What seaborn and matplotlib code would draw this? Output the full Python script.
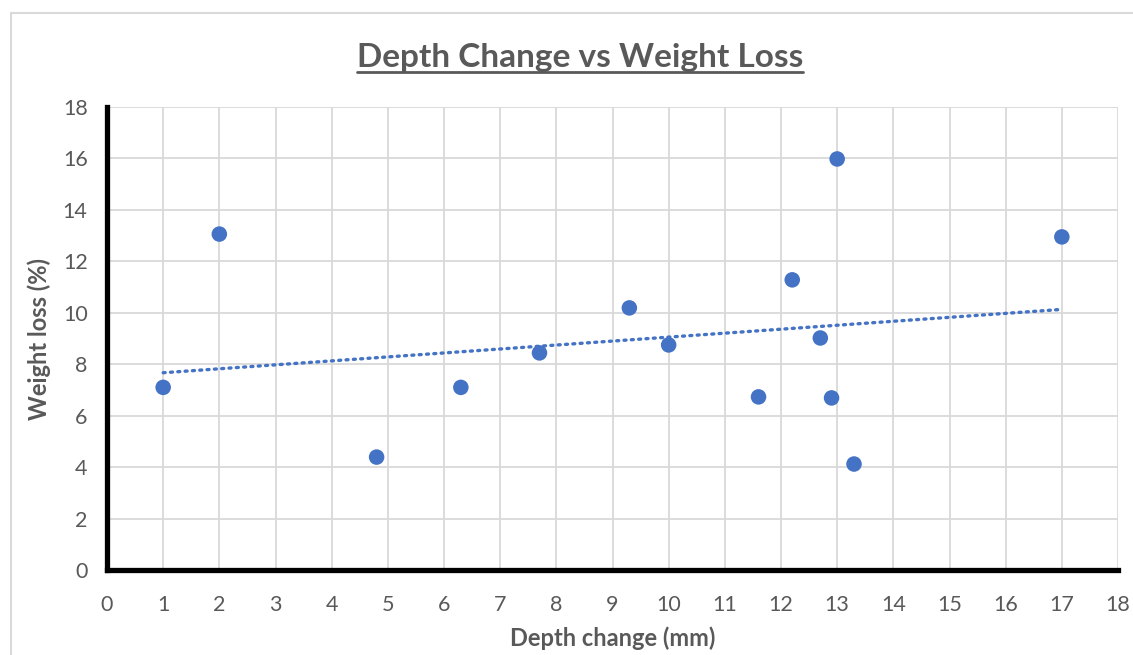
import matplotlib
matplotlib.use("Agg")
import matplotlib.pyplot as plt
import seaborn as sns
import pandas as pd
from matplotlib.lines import Line2D

# Depth change (mm) against weight loss (%)
depth_change = [1.0, 2.0, 4.8, 6.3, 7.7, 9.3, 10.0, 11.6, 12.2, 12.7, 13.0, 12.9, 13.3, 17.0]
weight_loss = [7.1, 13.06, 4.39, 7.1, 8.44, 10.19, 8.75, 6.73, 11.28, 9.02, 15.98, 6.69, 4.12, 12.95]
ticks = list(range(0, 19))
y_ticks = list(range(0, 19, 2))

df = pd.DataFrame({"depth": depth_change, "loss": weight_loss})

sns.set_theme(style="white")
plt.rcParams["font.family"] = ["Lato", "DejaVu Sans"]

blue = "#4472C4"
grey_text = "#595959"
grid_col = "#D9D9D9"

fig = plt.figure(figsize=(11.33, 6.55), dpi=100)
ax = fig.add_axes([107 / 1133, 1 - 570 / 655, (1118 - 107) / 1133, (570 - 107) / 655])

sns.regplot(data=df, x="depth", y="loss", scatter=False, ci=None, truncate=True,
            ax=ax, line_kws=dict(color=blue, linewidth=2.4,
                                 linestyle=(0, (0.6, 1.6)),
                                 dash_capstyle="round", zorder=3))
sns.scatterplot(data=df, x="depth", y="loss", ax=ax, color=blue, s=125,
                edgecolor="none", zorder=4)

ax.set_xlim(0, 18)
ax.set_ylim(0, 18)
ax.set_xticks(ticks)
ax.set_yticks(y_ticks)
ax.grid(True, color=grid_col, linewidth=1.3)
ax.set_axisbelow(True)

for side in ("top", "right"):
    ax.spines[side].set_visible(False)
for side in ("left", "bottom"):
    ax.spines[side].set_color("black")
    ax.spines[side].set_linewidth(3.8)
    ax.spines[side].set_capstyle("projecting")

ax.tick_params(axis="both", length=0, labelsize=15.5, labelcolor=grey_text)
ax.tick_params(axis="x", pad=18)
ax.tick_params(axis="y", pad=14)

ax.set_xlabel("Depth change (mm)", fontsize=17, fontweight="bold", color=grey_text)
ax.xaxis.set_label_coords(0.5, -0.122)
ax.set_ylabel("Weight loss (%)", fontsize=17, fontweight="bold", color=grey_text)
ax.yaxis.set_label_coords(-0.055, 0.5)

title = fig.text(580 / 1133, 1 - 58 / 655, "Depth Change vs Weight Loss", ha="center",
                 va="center", fontsize=24, fontweight="bold", color=grey_text)
# underline under the title
fig.canvas.draw()
bb = title.get_window_extent()
inv = fig.transFigure.inverted()
(x0, y0), (x1, _) = inv.transform([(bb.x0, bb.y0), (bb.x1, bb.y1)])
fig.add_artist(Line2D([x0, x1], [y0 + 1 / 655, y0 + 1 / 655], transform=fig.transFigure,
                      color=grey_text, linewidth=2))

# outer chart-area frame
fig.add_artist(Line2D([11 / 1133, 11 / 1133, 1.0], [0.0, 1 - 13 / 655, 1 - 13 / 655],
                      transform=fig.transFigure, color=grid_col, linewidth=1.5))

fig.savefig("out.png", dpi=100)
